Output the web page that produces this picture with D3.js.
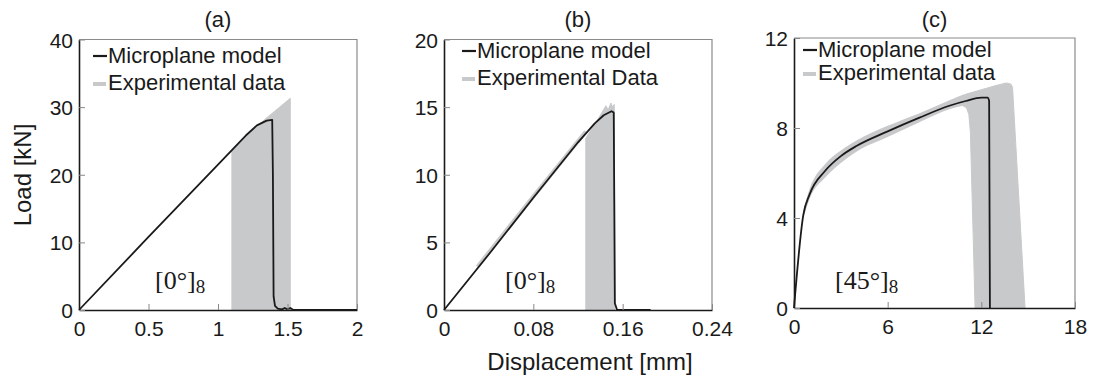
<!DOCTYPE html>
<html>
<head>
<meta charset="utf-8">
<script src="https://cdn.jsdelivr.net/npm/d3@7"></script>
<style>
  body { margin: 0; background: #fff; }
  svg { font-family: "Liberation Sans", Arial, sans-serif; }
</style>
</head>
<body>
<div id="chart"></div>
<script>
// panel (a): [0]8, displacement in mm, load in kN
var modelA = [[0,0],[0.5,10.8],[1.0,21.5],[1.2,25.8],[1.28,27.3],[1.35,28.0],[1.39,28.1],[1.395,20],[1.40,2],[1.41,0.6],[1.43,0.2],[1.46,0.1],[1.48,0.3],[1.5,0.1],[1.52,0.3],[1.54,0.05],[2.0,0]];
var bandA = [[1.10,0],[1.10,23.6],[1.28,27.2],[1.52,31.3],[1.52,0]];
// panel (b)
var modelB = [[0,0],[0.04,4.1],[0.08,8.3],[0.12,12.4],[0.135,13.8],[0.143,14.4],[0.150,14.7],[0.152,14.6],[0.1525,8],[0.153,0.5],[0.155,0],[0.185,0]];
var bandB = [[0.127,0],[0.127,12.7],[0.140,14.4],[0.145,15.1],[0.147,14.8],[0.1495,15.3],[0.151,15.0],[0.1525,15.2],[0.153,0]];
var expLineB = [[0.03,3.2],[0.08,8.4],[0.127,13.2]];
// panel (c)
var modelC = [[0,0],[0.6,4.15],[1,5.05],[2,6.1],[3,6.75],[4,7.2],[6,7.85],[8,8.45],[10,9.0],[11,9.2],[12,9.35],[12.4,9.35],[12.5,9.2],[12.55,0]];
// experimental scatter band along the hardening curve: [x, lower, upper]
var bandC = [[0.6,4.0,4.35],[1,4.85,5.3],[2,5.8,6.4],[3,6.45,7.0],[4,6.95,7.45],[6,7.6,8.1],[8,8.25,8.65],[10,8.85,9.25],[10.9,9.0,9.5]];
// failure zone of the experiments
var failC = [[10.6,9.35],[11,9.5],[12,9.7],[13,9.9],[13.6,10.0],[13.9,9.95],[14.0,9.8],[14.8,0],[11.6,0],[11.3,7.8],[11.2,8.6],[11.05,8.9],[10.8,9.0],[10.6,9.0]];

var xTicksA = [0, 0.5, 1, 1.5, 2], yTicksA = [0, 10, 20, 30, 40];
var xTicksB = [0, 0.08, 0.16, 0.24], yTicksB = [0, 5, 10, 15, 20];
var xTicksC = [0, 6, 12, 18], yTicksC = [0, 4, 8, 12];

var W = 1093, H = 380;
var svg = d3.select("#chart").append("svg").attr("width", W).attr("height", H);

var grey = "#c8c9cb", ink = "#1a1a1a";

function panel(opt) {
  var x = d3.scaleLinear().domain(opt.xd).range([opt.left, opt.right]);
  var y = d3.scaleLinear().domain(opt.yd).range([opt.bottom, opt.top]);
  var g = svg.append("g");
  var line = d3.line().x(function (d) { return x(d[0]); }).y(function (d) { return y(d[1]); });

  // box: grey top/right
  g.append("path")
    .attr("d", "M" + opt.left + "," + opt.top + "H" + opt.right + "V" + opt.bottom)
    .attr("fill", "none").attr("stroke", "#8a8a8a").attr("stroke-width", 1.2);

  // experimental data
  if (opt.expLine) {
    g.append("path").attr("d", line(opt.expLine)).attr("fill", "none")
      .attr("stroke", grey).attr("stroke-width", 4);
  }
  if (opt.bandArea) {
    var area = d3.area().x(function (d) { return x(d[0]); })
      .y0(function (d) { return y(d[1]); }).y1(function (d) { return y(d[2]); })
      .curve(d3.curveMonotoneX);
    g.append("path").attr("d", area(opt.bandArea)).attr("fill", grey);
  }
  g.append("path").attr("d", line(opt.band) + "Z").attr("fill", grey).attr("stroke", grey)
    .attr("stroke-width", 1).attr("stroke-linejoin", "round");

  // model line
  var modelLine = opt.smooth ? d3.line().x(function (d) { return x(d[0]); })
    .y(function (d) { return y(d[1]); }).curve(d3.curveMonotoneX) : line;
  g.append("path").attr("d", modelLine(opt.model)).attr("fill", "none")
    .attr("stroke", ink).attr("stroke-width", 1.8).attr("stroke-linejoin", "round");

  // axes
  var xa = d3.axisBottom(x).tickValues(opt.xt).tickSizeInner(-6).tickSizeOuter(0).tickPadding(11)
    .tickFormat(function (d) { return String(d); });
  var ya = d3.axisLeft(y).tickValues(opt.yt).tickSizeInner(-6).tickSizeOuter(0).tickPadding(6)
    .tickFormat(function (d) { return String(d); });
  var gx = g.append("g").attr("transform", "translate(0," + opt.bottom + ")").call(xa);
  var gy = g.append("g").attr("transform", "translate(" + opt.left + ",0)").call(ya);
  [gx, gy].forEach(function (a) {
    a.select(".domain").attr("stroke", ink).attr("stroke-width", 1.6);
    a.selectAll(".tick line").attr("stroke", "#888").attr("stroke-width", 1);
    a.selectAll(".tick text").attr("fill", ink).style("font-size", "21px")
      .style("font-family", "'Liberation Sans', Arial, sans-serif");
  });
  gy.selectAll(".tick text").attr("dy", "0.36em");

  // title
  g.append("text").attr("x", (opt.left + opt.right) / 2).attr("y", 27)
    .attr("text-anchor", "middle").attr("fill", ink).style("font-size", "22px").text(opt.title);

  // legend
  var lx = opt.left + opt.legDx, ly1 = opt.legY1, ly2 = opt.legY2;
  g.append("line").attr("x1", lx).attr("x2", lx + 14).attr("y1", ly1 - 7).attr("y2", ly1 - 7)
    .attr("stroke", ink).attr("stroke-width", 2.2);
  g.append("text").attr("x", lx + 15).attr("y", ly1).attr("fill", ink)
    .style("font-size", "22px").text("Microplane model");
  g.append("line").attr("x1", lx).attr("x2", lx + 13).attr("y1", ly2 - 6).attr("y2", ly2 - 6)
    .attr("stroke", grey).attr("stroke-width", 4);
  g.append("text").attr("x", lx + 15).attr("y", ly2).attr("fill", ink)
    .style("font-size", "22px").text(opt.expLabel);

  // layup annotation
  var t = g.append("text").attr("x", opt.annX).attr("y", 289).attr("fill", ink)
    .style("font-family", "'Liberation Serif', 'DejaVu Serif', serif").style("font-size", "26px");
  t.append("tspan").text(opt.ann);
  t.append("tspan").attr("dy", 4).style("font-size", "19px").text("8");
}

panel({ left: 79, right: 357, top: 39.5, bottom: 310, xd: [0, 2], yd: [0, 40],
  xt: xTicksA, yt: yTicksA, model: modelA, band: bandA, title: "(a)",
  legDx: 14, legY1: 63, legY2: 90, expLabel: "Experimental data", ann: "[0°]", annX: 155 });

panel({ left: 444, right: 712, top: 39.5, bottom: 310, xd: [0, 0.24], yd: [0, 20],
  xt: xTicksB, yt: yTicksB, model: modelB, band: bandB, expLine: expLineB, title: "(b)",
  legDx: 18, legY1: 58, legY2: 85, expLabel: "Experimental Data", ann: "[0°]", annX: 505 });

panel({ left: 794, right: 1075, top: 38, bottom: 308, xd: [0, 18], yd: [0, 12],
  xt: xTicksC, yt: yTicksC, model: modelC, band: failC, bandArea: bandC, title: "(c)",
  smooth: true, legDx: 9, legY1: 57, legY2: 80, expLabel: "Experimental data", ann: "[45°]", annX: 835 });

// shared axis labels
svg.append("text").attr("transform", "translate(31,175) rotate(-90)")
  .attr("text-anchor", "middle").attr("fill", ink).style("font-size", "24px").text("Load [kN]");
svg.append("text").attr("x", 590).attr("y", 370)
  .attr("text-anchor", "middle").attr("fill", ink).style("font-size", "24px").text("Displacement [mm]");
</script>
</body>
</html>
